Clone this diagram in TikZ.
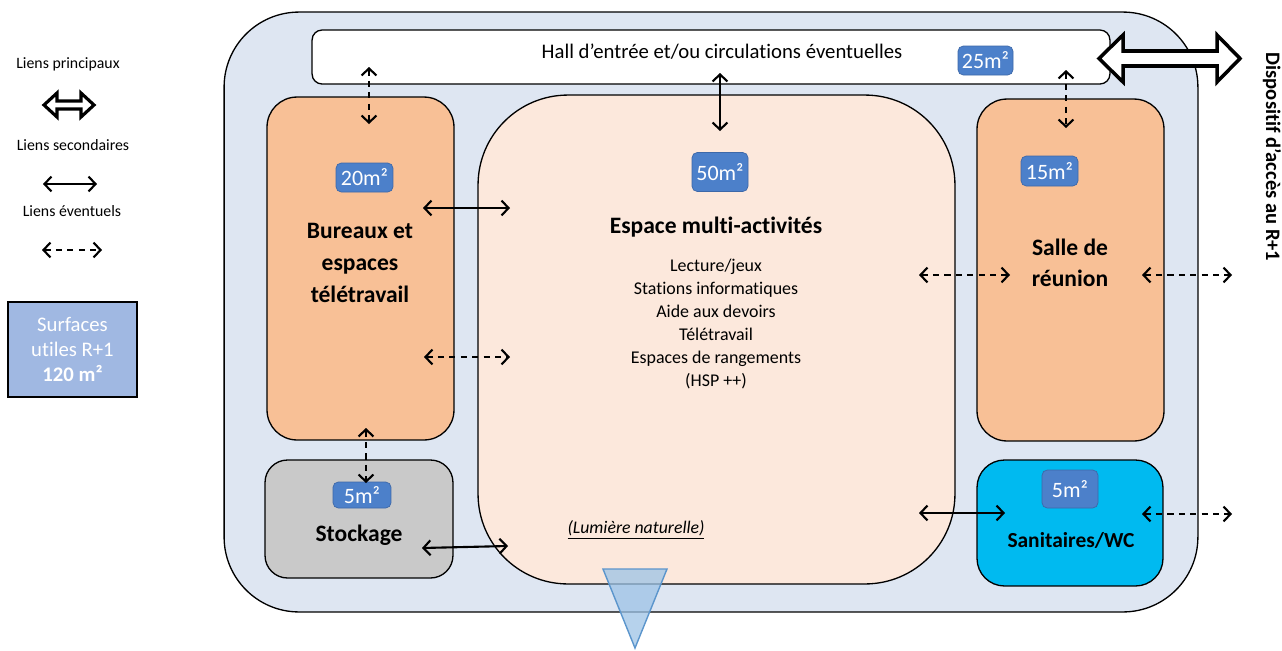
\documentclass[tikz,border=0pt]{standalone}
\usepackage{fontspec}
\setmainfont{Carlito}[Ligatures=NoCommon]
\usetikzlibrary{arrows.meta}
\definecolor{fondetage}{HTML}{DEE6F2}
\definecolor{saumon}{HTML}{F8C096}
\definecolor{rosepale}{HTML}{FCE8DC}
\definecolor{grisstock}{HTML}{C9C9C9}
\definecolor{cyanwc}{HTML}{00BAF0}
\definecolor{bleubadge}{HTML}{4C80CA}
\definecolor{bleubord}{HTML}{3D68A8}
\definecolor{bleulegende}{HTML}{A0B8E2}
\definecolor{bleutri}{HTML}{9DC3E6}
\definecolor{bleutribord}{HTML}{5B95CC}
\begin{document}
\begin{tikzpicture}[x=0.02cm,y=-0.02cm]
    \tikzstyle{piece}=[draw,line width=0.75pt,inner sep=0pt]
    \tikzstyle{surface}=[draw=bleubord,fill=bleubadge,rounded corners=3pt,inner sep=0pt,text=white,font=\fontsize{12.5}{14}\selectfont]
    \tikzstyle{titre}=[align=center,font=\bfseries\fontsize{13.4}{18}\selectfont]
    \tikzstyle{texte}=[align=center,font=\fontsize{10.2}{13}\selectfont]
    \tikzstyle{legende}=[font=\fontsize{9}{10}\selectfont]
    \tikzstyle{secondaire}=[{Straight Barb[length=4pt,width=8.5pt]}-{Straight Barb[length=4pt,width=8.5pt]},line width=1.2pt]
    \tikzstyle{eventuel}=[secondaire,dash pattern=on 3.5pt off 3pt]
    \tikzstyle{principal}=[draw,fill=white,line width=2pt,line join=miter]
    \useasboundingbox (0,0) rectangle (1282,650);
    % etage et pieces
    \node[piece,fill=fondetage,rounded corners=1.5cm,minimum width=19.48cm,minimum height=12cm] (etage) at (711,312) {};
    \node[piece,fill=white,rounded corners=0.2cm,minimum width=15.96cm,minimum height=1.08cm] (hall) at (711,57) {};
    \node[piece,fill=saumon,rounded corners=0.6cm,minimum width=3.74cm,minimum height=6.86cm] (bureaux) at (360.5,268.5) {};
    \node[piece,fill=rosepale,rounded corners=1.8cm,minimum width=9.54cm,minimum height=9.78cm] (multi) at (716.5,339.5) {};
    \node[piece,fill=saumon,rounded corners=0.6cm,minimum width=3.74cm,minimum height=6.84cm] (reunion) at (1070.5,270) {};
    \node[piece,fill=grisstock,rounded corners=0.45cm,minimum width=3.76cm,minimum height=2.36cm] (stockage) at (359,519) {};
    \node[piece,fill=cyanwc,rounded corners=0.55cm,minimum width=3.72cm,minimum height=2.52cm] (wc) at (1070,523) {};
    % textes
    \node[font=\fontsize{11.8}{13}\selectfont] (thall) at (722,52) {Hall d’entrée et/ou circulations éventuelles};
    \node[titre] (tbureaux) at (360,263) {Bureaux et\\espaces\\télétravail};
    \node[titre] (tmulti) at (716,227) {Espace multi-activités};
    \node[texte] (tactivites) at (716,324) {Lecture/jeux\\Stations informatiques\\Aide aux devoirs\\Télétravail\\Espaces de rangements\\(HSP ++)};
    \node[texte,font=\itshape\fontsize{10.1}{12}\selectfont] (tlumiere) at (636,530) {\underline{(Lumière naturelle)}};
    \node[titre] (treunion) at (1070,263) {Salle de\\réunion};
    \node[titre] (tstockage) at (359,535) {Stockage};
    \node[titre,font=\bfseries\fontsize{12.2}{14}\selectfont] (twc) at (1071,540) {Sanitaires/WC};
    % surfaces
    \node[surface,minimum width=1.1cm,minimum height=0.58cm] (s25) at (985.5,60.5) {25m²};
    \node[surface,minimum width=1.14cm,minimum height=0.58cm] (s20) at (364.5,177.5) {20m²};
    \node[surface,minimum width=1.12cm,minimum height=0.78cm] (s50) at (720,172) {50m²};
    \node[surface,minimum width=1.14cm,minimum height=0.6cm] (s15) at (1049.5,171) {15m²};
    \node[surface,minimum width=1.16cm,minimum height=0.52cm] (s5a) at (362,495) {5m²};
    \node[surface,minimum width=1.12cm,minimum height=0.76cm] (s5b) at (1070,489) {5m²};
    % lumiere naturelle
    \draw[draw=bleutribord,fill=bleutri,fill opacity=0.75,line width=0.8pt] (603,569) -- (667,569) -- (635,648) -- cycle;
    % liens
    \coordinate (a1) at (369,67);   \coordinate (a2) at (369,124);
    \coordinate (b1) at (720,73);   \coordinate (b2) at (720,131);
    \coordinate (c1) at (1066,70);  \coordinate (c2) at (1066,128);
    \coordinate (d1) at (423,208);  \coordinate (d2) at (510,208);
    \coordinate (e1) at (424,357);  \coordinate (e2) at (510,357);
    \coordinate (f1) at (366,428);  \coordinate (f2) at (366,483);
    \coordinate (g1) at (422,548);  \coordinate (g2) at (508,546);
    \coordinate (h1) at (919,275);  \coordinate (h2) at (1010,275);
    \coordinate (i1) at (1142,275); \coordinate (i2) at (1232,275);
    \coordinate (j1) at (919,513);  \coordinate (j2) at (1005,513);
    \coordinate (k1) at (1142,514); \coordinate (k2) at (1232,514);
    \draw[eventuel] (a1) -- (a2);
    \draw[secondaire] (b1) -- (b2);
    \draw[eventuel] (c1) -- (c2);
    \draw[secondaire] (d1) -- (d2);
    \draw[eventuel] (e1) -- (e2);
    \draw[eventuel] (f1) -- (f2);
    \draw[secondaire] (g1) -- (g2);
    \draw[eventuel] (h1) -- (h2);
    \draw[eventuel] (i1) -- (i2);
    \draw[secondaire] (j1) -- (j2);
    \draw[eventuel] (k1) -- (k2);
    % acces R+1
    \draw[principal] (1099,58.5) -- (1123,35) -- (1123,51) -- (1217,51) -- (1217,35) -- (1240,58.5)
        -- (1217,82) -- (1217,66) -- (1123,66) -- (1123,82) -- cycle;
    \node[rotate=-90,font=\bfseries\fontsize{11.7}{13}\selectfont] (tacces) at (1272,157) {Dispositif d’accès au R+1};
    % legende
    \node[legende] (lprinc) at (68,64) {Liens principaux};
    \draw[principal,line width=1.8pt] (44,105) -- (57,93) -- (57,101) -- (81,101) -- (81,93) -- (94,105)
        -- (81,117) -- (81,109) -- (57,109) -- (57,117) -- cycle;
    \node[legende] (lsec) at (73,145) {Liens secondaires};
    \coordinate (ls1) at (43,184); \coordinate (ls2) at (97,184);
    \draw[secondaire] (ls1) -- (ls2);
    \node[legende] (lev) at (72,211) {Liens éventuels};
    \coordinate (le1) at (42,250); \coordinate (le2) at (102,250);
    \draw[eventuel] (le1) -- (le2);
    \node[piece,fill=bleulegende,minimum width=2.58cm,minimum height=1.9cm,align=center,text=white,
        font=\fontsize{11.8}{14}\selectfont] (surfaces) at (72.5,349.5) {Surfaces\\utiles R+1\\\textbf{120 m²}};
\end{tikzpicture}
\end{document}
